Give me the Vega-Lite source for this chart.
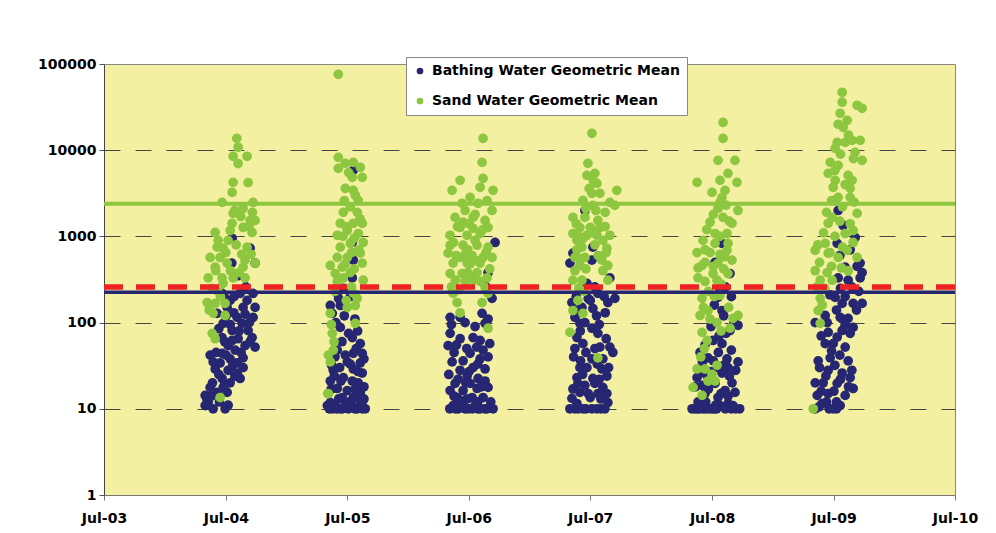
{
  "$schema": "https://vega.github.io/schema/vega-lite/v6.json",
  "autosize": {"type": "none"},
  "padding": {"left": 104, "top": 64, "right": 41, "bottom": 38},
  "width": 851,
  "height": 431,
  "background": "white",
  "datasets": {
    "bathing": [
      {"date":"2004-07-20","value":950},{"date":"2004-09-12","value":730},{"date":"2004-07-19","value":490},{"date":"2004-09-27","value":490},{"date":"2004-08-07","value":350},{"date":"2004-06-20","value":218},{"date":"2004-08-13","value":218},{"date":"2004-09-21","value":218},{"date":"2004-07-05","value":150},{"date":"2004-08-22","value":150},{"date":"2004-09-27","value":150},{"date":"2004-06-05","value":128},{"date":"2004-08-04","value":115},{"date":"2004-09-21","value":115},{"date":"2004-06-23","value":98},{"date":"2004-08-19","value":98},{"date":"2004-07-20","value":81},{"date":"2004-09-06","value":81},{"date":"2004-06-20","value":67},{"date":"2004-08-07","value":65},{"date":"2004-09-18","value":67},{"date":"2004-07-08","value":54},{"date":"2004-08-28","value":54},{"date":"2004-09-27","value":52},{"date":"2004-06-20","value":44},{"date":"2004-07-29","value":48},{"date":"2004-05-15","value":42},{"date":"2004-07-14","value":38},{"date":"2004-08-22","value":39},{"date":"2004-06-14","value":34},{"date":"2004-08-04","value":34},{"date":"2004-08-22","value":30},{"date":"2004-05-30","value":29},{"date":"2004-07-08","value":28},{"date":"2004-08-04","value":26},{"date":"2004-06-20","value":22.5},{"date":"2004-08-13","value":22.5},{"date":"2004-07-14","value":20},{"date":"2004-05-15","value":17.7},{"date":"2004-06-23","value":17.7},{"date":"2004-04-30","value":14.3},{"date":"2004-06-05","value":15.5},{"date":"2004-07-05","value":15.5},{"date":"2004-05-09","value":11.8},{"date":"2004-05-24","value":10},{"date":"2004-06-29","value":10},{"date":"2004-04-30","value":10.9},{"date":"2004-07-14","value":181},{"date":"2004-09-03","value":181},
      {"date":"2004-06-26","value":200},{"date":"2004-07-26","value":200},{"date":"2004-08-30","value":260},{"date":"2004-07-02","value":120},{"date":"2004-07-25","value":130},{"date":"2004-08-28","value":125},{"date":"2004-09-10","value":100},{"date":"2004-06-10","value":85},{"date":"2004-07-14","value":95},{"date":"2004-08-10","value":80},{"date":"2004-06-28","value":60},{"date":"2004-07-20","value":62},{"date":"2004-09-12","value":60},{"date":"2004-06-02","value":45},{"date":"2004-07-02","value":42},{"date":"2004-08-16","value":45},{"date":"2004-05-24","value":35},{"date":"2004-07-22","value":32},{"date":"2004-06-10","value":25},{"date":"2004-07-28","value":24},{"date":"2004-05-22","value":20},{"date":"2004-06-28","value":19},{"date":"2004-05-05","value":13},{"date":"2004-05-18","value":14},{"date":"2004-06-12","value":12},{"date":"2004-07-08","value":11},{"date":"2004-05-02","value":11},
      {"date":"2005-07-19","value":5840},{"date":"2005-07-16","value":850},{"date":"2005-07-19","value":530},{"date":"2005-07-16","value":330},{"date":"2005-06-01","value":218},{"date":"2005-05-11","value":158},{"date":"2005-06-10","value":158},{"date":"2005-05-17","value":128},{"date":"2005-06-10","value":88},{"date":"2005-07-16","value":67},{"date":"2005-08-09","value":57},{"date":"2005-06-01","value":48},{"date":"2005-07-19","value":44},{"date":"2005-08-15","value":44},{"date":"2005-07-01","value":35},{"date":"2005-08-09","value":34},{"date":"2005-05-20","value":28},{"date":"2005-07-19","value":29},{"date":"2005-08-15","value":26},{"date":"2005-06-19","value":23},{"date":"2005-05-11","value":21},{"date":"2005-07-16","value":21},{"date":"2005-08-03","value":20},{"date":"2005-06-01","value":17.2},{"date":"2005-07-01","value":16.3},{"date":"2005-08-09","value":15.5},{"date":"2005-05-05","value":15},{"date":"2005-06-16","value":13.5},{"date":"2005-07-19","value":13.5},{"date":"2005-05-11","value":11.8},{"date":"2005-08-09","value":12.5},{"date":"2005-05-02","value":10.9},{"date":"2005-05-26","value":10.9},{"date":"2005-06-25","value":10.9},{"date":"2005-07-16","value":10.9},{"date":"2005-08-15","value":10.9},{"date":"2005-05-17","value":10},{"date":"2005-06-16","value":10},{"date":"2005-07-31","value":10},{"date":"2005-07-04","value":10},{"date":"2005-08-24","value":10},
      {"date":"2005-06-20","value":250},{"date":"2005-07-10","value":200},{"date":"2005-06-05","value":190},{"date":"2005-07-24","value":110},{"date":"2005-06-22","value":120},{"date":"2005-05-28","value":100},{"date":"2005-07-05","value":75},{"date":"2005-08-01","value":80},{"date":"2005-06-15","value":60},{"date":"2005-07-28","value":50},{"date":"2005-05-25","value":40},{"date":"2005-06-25","value":42},{"date":"2005-08-20","value":38},{"date":"2005-05-15","value":32},{"date":"2005-06-08","value":30},{"date":"2005-07-10","value":33},{"date":"2005-08-02","value":27},{"date":"2005-05-23","value":24},{"date":"2005-06-12","value":21},{"date":"2005-08-20","value":18},{"date":"2005-05-14","value":17},{"date":"2005-07-25","value":17},{"date":"2005-06-05","value":13},{"date":"2005-07-08","value":12},{"date":"2005-08-20","value":13},{"date":"2005-05-08","value":10},{"date":"2005-05-29","value":10},{"date":"2005-06-08","value":10},{"date":"2005-07-24","value":10},{"date":"2005-08-15","value":10},
      {"date":"2006-09-18","value":850},{"date":"2006-08-28","value":380},{"date":"2006-09-09","value":191},{"date":"2006-05-06","value":115},{"date":"2006-06-05","value":115},{"date":"2006-08-10","value":128},{"date":"2006-08-19","value":98},{"date":"2006-05-06","value":75},{"date":"2006-06-05","value":65},{"date":"2006-07-14","value":67},{"date":"2006-09-02","value":57},{"date":"2006-04-30","value":54},{"date":"2006-08-04","value":62},{"date":"2006-07-05","value":44},{"date":"2006-08-13","value":48},{"date":"2006-05-12","value":35},{"date":"2006-06-14","value":36},{"date":"2006-08-04","value":38},{"date":"2006-07-14","value":30},{"date":"2006-08-19","value":29},{"date":"2006-06-26","value":24},{"date":"2006-07-29","value":22.5},{"date":"2006-05-21","value":19.7},{"date":"2006-07-05","value":19.7},{"date":"2006-08-19","value":21},{"date":"2006-05-06","value":16.3},{"date":"2006-06-14","value":16.3},{"date":"2006-07-26","value":17.2},{"date":"2006-08-28","value":17.7},{"date":"2006-05-27","value":13.5},{"date":"2006-07-11","value":13.5},{"date":"2006-08-13","value":13.5},{"date":"2006-05-15","value":10.9},{"date":"2006-06-14","value":10.9},{"date":"2006-07-20","value":10.9},{"date":"2006-08-25","value":10},{"date":"2006-05-30","value":10},{"date":"2006-08-04","value":10},{"date":"2006-06-30","value":10},{"date":"2006-09-12","value":10},
      {"date":"2006-08-22","value":260},{"date":"2006-05-10","value":95},{"date":"2006-06-20","value":100},{"date":"2006-07-20","value":90},{"date":"2006-08-28","value":110},{"date":"2006-05-25","value":55},{"date":"2006-06-25","value":50},{"date":"2006-07-25","value":52},{"date":"2006-08-28","value":40},{"date":"2006-05-18","value":45},{"date":"2006-06-05","value":28},{"date":"2006-07-02","value":27},{"date":"2006-07-28","value":33},{"date":"2006-05-02","value":25},{"date":"2006-05-30","value":22},{"date":"2006-06-22","value":20},{"date":"2006-08-08","value":18},{"date":"2006-05-18","value":14},{"date":"2006-06-05","value":12.5},{"date":"2006-06-26","value":13},{"date":"2006-07-28","value":12},{"date":"2006-09-05","value":12},{"date":"2006-05-05","value":10},{"date":"2006-05-22","value":10},{"date":"2006-06-20","value":10},{"date":"2006-07-12","value":10},{"date":"2006-07-28","value":10},{"date":"2006-08-18","value":10},
      {"date":"2007-06-15","value":2000},{"date":"2007-07-09","value":750},{"date":"2007-05-10","value":640},{"date":"2007-07-06","value":530},{"date":"2007-05-01","value":490},{"date":"2007-08-29","value":330},{"date":"2007-06-21","value":285},{"date":"2007-07-24","value":218},{"date":"2007-05-07","value":171},{"date":"2007-07-01","value":181},{"date":"2007-08-23","value":171},{"date":"2007-09-13","value":191},{"date":"2007-05-16","value":115},{"date":"2007-06-06","value":150},{"date":"2007-07-09","value":146},{"date":"2007-05-31","value":98},{"date":"2007-07-06","value":86},{"date":"2007-07-24","value":75},{"date":"2007-05-22","value":67},{"date":"2007-06-09","value":57},{"date":"2007-07-30","value":52},{"date":"2007-08-29","value":52},{"date":"2007-05-16","value":50},{"date":"2007-09-07","value":45},{"date":"2007-07-06","value":38},{"date":"2007-08-08","value":38},{"date":"2007-05-31","value":30},{"date":"2007-06-21","value":30},{"date":"2007-08-05","value":29},{"date":"2007-05-22","value":23},{"date":"2007-08-20","value":24},{"date":"2007-07-09","value":22.5},{"date":"2007-05-25","value":19.7},{"date":"2007-07-15","value":19.7},{"date":"2007-08-08","value":17.7},{"date":"2007-06-15","value":18.7},{"date":"2007-05-31","value":15.5},{"date":"2007-07-24","value":15},{"date":"2007-08-20","value":15},{"date":"2007-05-07","value":13.2},{"date":"2007-07-01","value":13.5},{"date":"2007-05-01","value":10},{"date":"2007-06-09","value":10},{"date":"2007-07-21","value":10},{"date":"2007-08-23","value":11.8},{"date":"2007-05-22","value":11.5},
      {"date":"2007-06-01","value":240},{"date":"2007-07-15","value":260},{"date":"2007-05-20","value":200},{"date":"2007-06-25","value":190},{"date":"2007-08-12","value":200},{"date":"2007-05-25","value":140},{"date":"2007-07-20","value":120},{"date":"2007-08-15","value":130},{"date":"2007-06-15","value":100},{"date":"2007-07-28","value":95},{"date":"2007-06-01","value":80},{"date":"2007-08-18","value":65},{"date":"2007-06-18","value":45},{"date":"2007-07-15","value":50},{"date":"2007-05-12","value":40},{"date":"2007-06-02","value":36},{"date":"2007-07-22","value":33},{"date":"2007-08-25","value":30},{"date":"2007-06-08","value":25},{"date":"2007-07-28","value":22},{"date":"2007-05-10","value":17},{"date":"2007-06-25","value":15},{"date":"2007-08-02","value":13},{"date":"2007-05-15","value":10},{"date":"2007-05-26","value":10},{"date":"2007-06-18","value":10},{"date":"2007-07-06","value":10},{"date":"2007-08-02","value":10},{"date":"2007-08-14","value":10},
      {"date":"2008-07-31","value":830},{"date":"2008-07-10","value":500},{"date":"2008-08-24","value":370},{"date":"2008-07-19","value":196},{"date":"2008-07-31","value":138},{"date":"2008-09-17","value":93},{"date":"2008-08-24","value":81},{"date":"2008-07-04","value":62},{"date":"2008-07-31","value":57},{"date":"2008-05-26","value":45},{"date":"2008-06-19","value":39},{"date":"2008-08-15","value":38},{"date":"2008-09-17","value":35},{"date":"2008-07-19","value":30},{"date":"2008-08-18","value":30},{"date":"2008-05-17","value":23},{"date":"2008-06-19","value":23},{"date":"2008-07-31","value":26},{"date":"2008-06-01","value":18.7},{"date":"2008-07-10","value":19.7},{"date":"2008-08-30","value":20},{"date":"2008-06-10","value":15},{"date":"2008-08-09","value":16.3},{"date":"2008-09-08","value":15.5},{"date":"2008-05-11","value":10},{"date":"2008-06-04","value":10},{"date":"2008-07-01","value":10},{"date":"2008-07-25","value":10.9},{"date":"2008-08-18","value":11.5},{"date":"2008-09-02","value":10.9},{"date":"2008-07-19","value":13.5},{"date":"2008-05-02","value":10},{"date":"2008-09-22","value":10},
      {"date":"2008-08-10","value":260},{"date":"2008-07-25","value":230},{"date":"2008-08-28","value":200},{"date":"2008-07-08","value":160},{"date":"2008-08-05","value":120},{"date":"2008-09-05","value":100},{"date":"2008-06-28","value":90},{"date":"2008-08-12","value":75},{"date":"2008-07-22","value":70},{"date":"2008-06-10","value":55},{"date":"2008-07-20","value":45},{"date":"2008-08-28","value":48},{"date":"2008-06-02","value":35},{"date":"2008-07-05","value":36},{"date":"2008-08-05","value":32},{"date":"2008-09-10","value":28},{"date":"2008-05-28","value":26},{"date":"2008-06-28","value":27},{"date":"2008-08-22","value":24},{"date":"2008-05-12","value":18},{"date":"2008-06-20","value":17},{"date":"2008-07-28","value":15},{"date":"2008-08-18","value":14},{"date":"2008-05-20","value":12},{"date":"2008-06-12","value":12},{"date":"2008-07-12","value":11},{"date":"2008-05-18","value":10},{"date":"2008-05-25","value":10},{"date":"2008-06-12","value":10},{"date":"2008-06-22","value":10},{"date":"2008-07-08","value":10},{"date":"2008-07-15","value":10},{"date":"2008-08-10","value":10},{"date":"2008-08-28","value":10},{"date":"2008-09-10","value":10},
      {"date":"2009-07-06","value":2620},{"date":"2009-07-15","value":2000},{"date":"2009-07-30","value":1340},{"date":"2009-07-12","value":830},{"date":"2009-09-04","value":970},{"date":"2009-09-19","value":490},{"date":"2009-08-05","value":440},{"date":"2009-09-25","value":380},{"date":"2009-09-19","value":330},{"date":"2009-07-15","value":330},{"date":"2009-08-14","value":310},{"date":"2009-07-06","value":196},{"date":"2009-07-27","value":167},{"date":"2009-08-29","value":167},{"date":"2009-09-25","value":167},{"date":"2009-06-06","value":121},{"date":"2009-07-21","value":115},{"date":"2009-08-14","value":112},{"date":"2009-05-07","value":100},{"date":"2009-08-05","value":93},{"date":"2009-08-29","value":88},{"date":"2009-06-15","value":77},{"date":"2009-07-27","value":81},{"date":"2009-06-06","value":57},{"date":"2009-06-30","value":57},{"date":"2009-08-05","value":52},{"date":"2009-05-16","value":36},{"date":"2009-06-21","value":39},{"date":"2009-08-14","value":36},{"date":"2009-06-15","value":28},{"date":"2009-07-27","value":26},{"date":"2009-08-20","value":23},{"date":"2009-05-07","value":20},{"date":"2009-05-31","value":20},{"date":"2009-07-12","value":19.7},{"date":"2009-08-29","value":17.2},{"date":"2009-05-13","value":14.3},{"date":"2009-06-15","value":15},{"date":"2009-08-05","value":14.3},{"date":"2009-05-28","value":11.5},{"date":"2009-06-30","value":10},{"date":"2009-05-07","value":10},{"date":"2009-07-21","value":10.9},
      {"date":"2009-07-20","value":600},{"date":"2009-08-20","value":700},{"date":"2009-09-10","value":450},{"date":"2009-08-25","value":260},{"date":"2009-07-22","value":250},{"date":"2009-09-15","value":230},{"date":"2009-06-20","value":210},{"date":"2009-08-05","value":200},{"date":"2009-09-08","value":140},{"date":"2009-07-10","value":140},{"date":"2009-06-12","value":100},{"date":"2009-07-28","value":110},{"date":"2009-08-20","value":75},{"date":"2009-05-25","value":70},{"date":"2009-07-12","value":68},{"date":"2009-06-25","value":47},{"date":"2009-07-20","value":42},{"date":"2009-05-20","value":30},{"date":"2009-07-05","value":32},{"date":"2009-08-25","value":28},{"date":"2009-06-08","value":24},{"date":"2009-07-22","value":22},{"date":"2009-05-25","value":16},{"date":"2009-07-02","value":16},{"date":"2009-08-15","value":18},{"date":"2009-06-10","value":12},{"date":"2009-07-10","value":12},{"date":"2009-05-18","value":10.5},{"date":"2009-06-18","value":10},{"date":"2009-07-10","value":10}
    ],
    "sand": [
      {"date":"2004-08-03","value":13700},{"date":"2004-08-07","value":10800},{"date":"2004-07-23","value":8500},{"date":"2004-09-03","value":8500},{"date":"2004-08-07","value":7000},{"date":"2004-07-23","value":4240},{"date":"2004-09-06","value":4200},{"date":"2004-07-20","value":3240},{"date":"2004-06-20","value":2480},{"date":"2004-09-21","value":2480},{"date":"2004-08-22","value":2110},{"date":"2004-09-19","value":1900},{"date":"2004-07-23","value":1850},{"date":"2004-09-12","value":1530},{"date":"2004-07-20","value":1420},{"date":"2004-09-27","value":1530},{"date":"2004-08-22","value":1270},{"date":"2004-07-14","value":1170},{"date":"2004-05-30","value":1110},{"date":"2004-09-18","value":1110},{"date":"2004-06-05","value":750},{"date":"2004-06-23","value":730},{"date":"2004-05-15","value":570},{"date":"2004-06-14","value":570},{"date":"2004-05-30","value":440},{"date":"2004-07-05","value":490},{"date":"2004-09-03","value":750},{"date":"2004-08-28","value":530},{"date":"2004-08-22","value":440},{"date":"2004-09-27","value":490},{"date":"2004-05-09","value":330},{"date":"2004-06-20","value":330},{"date":"2004-07-23","value":330},{"date":"2004-08-28","value":330},{"date":"2004-06-23","value":285},{"date":"2004-05-06","value":171},{"date":"2004-05-30","value":167},{"date":"2004-06-29","value":167},{"date":"2004-05-24","value":128},{"date":"2004-06-29","value":121},{"date":"2004-05-21","value":75},{"date":"2004-05-30","value":65},{"date":"2004-06-14","value":13.5},
      {"date":"2004-07-28","value":2000},{"date":"2004-08-15","value":1700},{"date":"2004-09-09","value":1300},{"date":"2004-07-08","value":900},{"date":"2004-08-01","value":800},{"date":"2004-06-08","value":900},{"date":"2004-07-01","value":650},{"date":"2004-08-18","value":620},{"date":"2004-09-15","value":620},{"date":"2004-06-01","value":400},{"date":"2004-07-15","value":400},{"date":"2004-08-10","value":380},{"date":"2004-05-20","value":250},{"date":"2004-06-08","value":230},{"date":"2004-05-12","value":140},{"date":"2004-06-15","value":200},
      {"date":"2005-06-04","value":76000},{"date":"2005-06-04","value":8260},{"date":"2005-06-25","value":7040},{"date":"2005-07-19","value":7230},{"date":"2005-08-09","value":6330},{"date":"2005-06-04","value":6160},{"date":"2005-07-16","value":4840},{"date":"2005-08-15","value":4840},{"date":"2005-06-25","value":3610},{"date":"2005-07-19","value":3420},{"date":"2005-08-03","value":2620},{"date":"2005-06-19","value":1900},{"date":"2005-07-31","value":1900},{"date":"2005-06-10","value":1420},{"date":"2005-07-19","value":1420},{"date":"2005-08-15","value":1420},{"date":"2005-07-01","value":1170},{"date":"2005-06-01","value":1030},{"date":"2005-08-03","value":1080},{"date":"2005-07-10","value":830},{"date":"2005-08-18","value":850},{"date":"2005-06-10","value":750},{"date":"2005-08-09","value":640},{"date":"2005-06-01","value":570},{"date":"2005-07-01","value":570},{"date":"2005-08-15","value":490},{"date":"2005-05-11","value":460},{"date":"2005-06-16","value":440},{"date":"2005-05-26","value":370},{"date":"2005-07-10","value":380},{"date":"2005-06-19","value":330},{"date":"2005-08-18","value":310},{"date":"2005-07-31","value":191},{"date":"2005-07-25","value":158},{"date":"2005-05-11","value":128},{"date":"2005-07-01","value":150},{"date":"2005-07-25","value":98},{"date":"2005-05-17","value":75},{"date":"2005-05-05","value":42},{"date":"2005-05-20","value":48},{"date":"2005-05-11","value":35},{"date":"2005-05-05","value":15},
      {"date":"2005-07-05","value":5500},{"date":"2005-07-25","value":3000},{"date":"2005-07-10","value":2200},{"date":"2005-06-22","value":2600},{"date":"2005-08-08","value":1600},{"date":"2005-06-28","value":1300},{"date":"2005-07-22","value":950},{"date":"2005-06-18","value":1000},{"date":"2005-07-14","value":650},{"date":"2005-08-05","value":700},{"date":"2005-06-25","value":480},{"date":"2005-07-22","value":420},{"date":"2005-06-01","value":300},{"date":"2005-07-14","value":260},{"date":"2005-05-25","value":230},{"date":"2005-07-19","value":220},{"date":"2005-06-28","value":180},{"date":"2005-05-14","value":95},{"date":"2005-05-22","value":60},
      {"date":"2006-08-13","value":13700},{"date":"2006-08-10","value":7230},{"date":"2006-06-05","value":4470},{"date":"2006-08-13","value":4710},{"date":"2006-05-12","value":3420},{"date":"2006-09-12","value":3420},{"date":"2006-08-04","value":3710},{"date":"2006-07-05","value":2840},{"date":"2006-06-11","value":2420},{"date":"2006-07-29","value":2420},{"date":"2006-09-09","value":2000},{"date":"2006-05-21","value":1660},{"date":"2006-07-14","value":1660},{"date":"2006-08-19","value":1530},{"date":"2006-06-14","value":1460},{"date":"2006-06-05","value":1270},{"date":"2006-07-14","value":1240},{"date":"2006-08-28","value":1270},{"date":"2006-05-06","value":1030},{"date":"2006-06-26","value":1030},{"date":"2006-08-04","value":1080},{"date":"2006-05-06","value":790},{"date":"2006-06-14","value":790},{"date":"2006-07-26","value":790},{"date":"2006-08-28","value":750},{"date":"2006-04-30","value":640},{"date":"2006-06-05","value":570},{"date":"2006-07-11","value":600},{"date":"2006-08-13","value":570},{"date":"2006-09-09","value":570},{"date":"2006-05-15","value":490},{"date":"2006-06-26","value":490},{"date":"2006-08-04","value":490},{"date":"2006-05-06","value":370},{"date":"2006-06-11","value":370},{"date":"2006-07-26","value":380},{"date":"2006-08-25","value":330},{"date":"2006-07-14","value":310},{"date":"2006-08-19","value":256},{"date":"2006-05-15","value":218},{"date":"2006-08-28","value":218},{"date":"2006-05-27","value":171},{"date":"2006-08-10","value":171},{"date":"2006-06-05","value":130},{"date":"2006-08-28","value":86},
      {"date":"2006-06-20","value":2000},{"date":"2006-07-20","value":1800},{"date":"2006-08-25","value":2600},{"date":"2006-05-28","value":1300},{"date":"2006-07-02","value":1400},{"date":"2006-08-12","value":1200},{"date":"2006-05-16","value":850},{"date":"2006-06-28","value":700},{"date":"2006-07-20","value":900},{"date":"2006-08-22","value":650},{"date":"2006-05-24","value":600},{"date":"2006-06-20","value":620},{"date":"2006-07-05","value":480},{"date":"2006-07-28","value":520},{"date":"2006-09-02","value":420},{"date":"2006-05-22","value":310},{"date":"2006-06-20","value":300},{"date":"2006-08-05","value":300},{"date":"2006-06-28","value":380},{"date":"2006-07-10","value":340},{"date":"2006-05-10","value":260},{"date":"2006-06-02","value":240},
      {"date":"2007-07-06","value":15700},{"date":"2007-06-24","value":7040},{"date":"2007-06-21","value":5110},{"date":"2007-07-15","value":5390},{"date":"2007-07-21","value":4120},{"date":"2007-09-19","value":3420},{"date":"2007-07-30","value":3160},{"date":"2007-07-06","value":3160},{"date":"2007-06-09","value":2620},{"date":"2007-08-29","value":2480},{"date":"2007-09-13","value":2290},{"date":"2007-07-09","value":2290},{"date":"2007-05-10","value":1660},{"date":"2007-06-15","value":1660},{"date":"2007-07-24","value":1530},{"date":"2007-05-31","value":1270},{"date":"2007-07-01","value":1270},{"date":"2007-07-30","value":1270},{"date":"2007-05-10","value":1080},{"date":"2007-08-29","value":1030},{"date":"2007-06-21","value":1030},{"date":"2007-07-21","value":1030},{"date":"2007-05-22","value":900},{"date":"2007-08-08","value":900},{"date":"2007-06-06","value":750},{"date":"2007-08-20","value":730},{"date":"2007-05-16","value":570},{"date":"2007-06-15","value":570},{"date":"2007-08-05","value":530},{"date":"2007-05-31","value":460},{"date":"2007-08-23","value":460},{"date":"2007-08-08","value":400},{"date":"2007-05-10","value":310},{"date":"2007-06-06","value":310},{"date":"2007-08-23","value":310},{"date":"2007-05-25","value":181},{"date":"2007-05-10","value":138},{"date":"2007-06-09","value":128},{"date":"2007-05-01","value":77},{"date":"2007-07-24","value":39},
      {"date":"2007-07-10","value":4500},{"date":"2007-06-28","value":3600},{"date":"2007-07-18","value":2000},{"date":"2007-06-18","value":2100},{"date":"2007-08-15","value":1900},{"date":"2007-05-20","value":1400},{"date":"2007-07-10","value":1100},{"date":"2007-08-15","value":1300},{"date":"2007-05-28","value":1000},{"date":"2007-07-15","value":800},{"date":"2007-06-10","value":950},{"date":"2007-08-18","value":650},{"date":"2007-05-22","value":700},{"date":"2007-06-01","value":550},{"date":"2007-07-25","value":600},{"date":"2007-05-16","value":400},{"date":"2007-06-18","value":420},{"date":"2007-05-28","value":250},{"date":"2007-06-12","value":230},
      {"date":"2008-08-03","value":21000},{"date":"2008-08-03","value":13700},{"date":"2008-07-19","value":7630},{"date":"2008-09-08","value":7630},{"date":"2008-08-18","value":5390},{"date":"2008-05-17","value":4240},{"date":"2008-07-25","value":4470},{"date":"2008-09-14","value":4240},{"date":"2008-07-01","value":3240},{"date":"2008-08-09","value":3420},{"date":"2008-07-31","value":2840},{"date":"2008-09-17","value":2000},{"date":"2008-07-19","value":2110},{"date":"2008-08-03","value":1660},{"date":"2008-06-25","value":1460},{"date":"2008-08-30","value":1420},{"date":"2008-07-10","value":1080},{"date":"2008-08-15","value":1080},{"date":"2008-06-04","value":900},{"date":"2008-08-18","value":830},{"date":"2008-07-10","value":830},{"date":"2008-05-17","value":650},{"date":"2008-06-25","value":650},{"date":"2008-08-15","value":690},{"date":"2008-06-10","value":500},{"date":"2008-08-30","value":530},{"date":"2008-07-19","value":490},{"date":"2008-05-20","value":430},{"date":"2008-07-04","value":370},{"date":"2008-08-18","value":370},{"date":"2008-05-20","value":330},{"date":"2008-07-16","value":310},{"date":"2008-06-01","value":191},{"date":"2008-07-25","value":207},{"date":"2008-06-19","value":138},{"date":"2008-05-26","value":121},{"date":"2008-09-17","value":121},{"date":"2008-07-16","value":100},{"date":"2008-09-02","value":112},{"date":"2008-06-01","value":77},{"date":"2008-08-24","value":86},{"date":"2008-06-16","value":62},{"date":"2008-07-16","value":32},{"date":"2008-05-17","value":29},{"date":"2008-06-10","value":29},{"date":"2008-06-19","value":21},{"date":"2008-05-05","value":17.7},{"date":"2008-06-01","value":14.3},{"date":"2008-07-10","value":21},
      {"date":"2008-07-25","value":2500},{"date":"2008-08-12","value":2300},{"date":"2008-07-05","value":1800},{"date":"2008-08-22","value":1500},{"date":"2008-06-15","value":1200},{"date":"2008-07-25","value":1000},{"date":"2008-06-10","value":700},{"date":"2008-07-25","value":620},{"date":"2008-08-08","value":580},{"date":"2008-06-01","value":460},{"date":"2008-07-05","value":450},{"date":"2008-08-05","value":420},{"date":"2008-06-10","value":300},{"date":"2008-07-28","value":280},{"date":"2008-06-20","value":230},{"date":"2008-07-08","value":200},{"date":"2008-06-05","value":150},{"date":"2008-08-20","value":150},{"date":"2008-06-25","value":110},{"date":"2008-07-28","value":80},{"date":"2008-06-08","value":50},{"date":"2008-05-28","value":40},{"date":"2008-07-01","value":25},
      {"date":"2009-07-27","value":47000},{"date":"2009-07-27","value":36000},{"date":"2009-09-10","value":33200},{"date":"2009-09-25","value":30600},{"date":"2009-07-21","value":26800},{"date":"2009-08-11","value":22200},{"date":"2009-07-30","value":18400},{"date":"2009-07-12","value":12340},{"date":"2009-09-19","value":13000},{"date":"2009-08-05","value":12340},{"date":"2009-08-26","value":13000},{"date":"2009-07-06","value":10500},{"date":"2009-09-04","value":9440},{"date":"2009-09-25","value":7630},{"date":"2009-06-21","value":7230},{"date":"2009-07-15","value":6670},{"date":"2009-06-15","value":5390},{"date":"2009-08-14","value":5110},{"date":"2009-07-06","value":4470},{"date":"2009-08-26","value":4470},{"date":"2009-06-30","value":3710},{"date":"2009-08-20","value":3610},{"date":"2009-08-20","value":2840},{"date":"2009-07-15","value":2840},{"date":"2009-09-10","value":1850},{"date":"2009-06-27","value":1660},{"date":"2009-06-15","value":1420},{"date":"2009-08-05","value":1080},{"date":"2009-08-29","value":1170},{"date":"2009-06-06","value":830},{"date":"2009-08-29","value":850},{"date":"2009-05-07","value":690},{"date":"2009-06-15","value":640},{"date":"2009-07-15","value":570},{"date":"2009-08-11","value":690},{"date":"2009-09-10","value":570},{"date":"2009-05-07","value":400},{"date":"2009-06-12","value":380},{"date":"2009-08-14","value":400},{"date":"2009-05-22","value":310},{"date":"2009-06-27","value":310},{"date":"2009-05-22","value":191},{"date":"2009-05-16","value":138},{"date":"2009-05-22","value":98},{"date":"2009-05-01","value":10},
      {"date":"2009-07-15","value":20000},{"date":"2009-08-15","value":15000},{"date":"2009-07-22","value":9000},{"date":"2009-08-30","value":8000},{"date":"2009-07-05","value":5800},{"date":"2009-08-05","value":4000},{"date":"2009-06-25","value":2600},{"date":"2009-07-28","value":2200},{"date":"2009-09-01","value":2500},{"date":"2009-06-10","value":1900},{"date":"2009-07-20","value":1500},{"date":"2009-08-20","value":1400},{"date":"2009-06-01","value":1100},{"date":"2009-07-05","value":1000},{"date":"2009-05-15","value":800},{"date":"2009-06-20","value":650},{"date":"2009-07-28","value":750},{"date":"2009-05-20","value":500},{"date":"2009-06-25","value":450},{"date":"2009-07-25","value":430},{"date":"2009-05-12","value":260},{"date":"2009-06-05","value":250},{"date":"2009-05-28","value":160}
    ]
  },
  "encoding": {
    "y": {
      "field": "value",
      "type": "quantitative",
      "scale": {"type": "log", "domain": [1, 100000], "nice": false},
      "axis": {
        "title": null,
        "values": [1, 10, 100, 1000, 10000, 100000],
        "format": "d",
        "grid": true,
        "gridDash": [16, 15],
        "gridColor": {"condition": {"test": "datum.value == 1 || datum.value == 100000", "value": "transparent"}, "value": "#444444"},
        "tickSize": 5,
        "labelPadding": 3,
        "domainColor": "#444444",
        "tickColor": "#555555"
      }
    }
  },
  "layer": [
    {
      "encoding": {
        "x": {
          "field": "date",
          "type": "temporal",
          "scale": {"type": "utc", "domain": [{"year": 2003, "month": 7, "date": 1, "utc": true}, {"year": 2010, "month": 7, "date": 1, "utc": true}]},
          "axis": {
            "title": null,
            "format": "%b-%y",
            "values": [
              {"year": 2003, "month": 7, "date": 1, "utc": true},
              {"year": 2004, "month": 7, "date": 1, "utc": true},
              {"year": 2005, "month": 7, "date": 1, "utc": true},
              {"year": 2006, "month": 7, "date": 1, "utc": true},
              {"year": 2007, "month": 7, "date": 1, "utc": true},
              {"year": 2008, "month": 7, "date": 1, "utc": true},
              {"year": 2009, "month": 7, "date": 1, "utc": true},
              {"year": 2010, "month": 7, "date": 1, "utc": true}
            ],
            "grid": false,
            "labelFlush": false,
            "tickSize": 5,
            "labelPadding": 11,
            "domainColor": "#777777",
            "tickColor": "#777777"
          }
        }
      },
      "layer": [
        {
          "data": {"name": "bathing"},
          "mark": {"type": "circle", "size": 95, "opacity": 1},
          "encoding": {"color": {"datum": "Bathing Water Geometric Mean", "type": "nominal"}}
        },
        {
          "data": {"name": "sand"},
          "mark": {"type": "circle", "size": 95, "opacity": 1},
          "encoding": {"color": {"datum": "Sand Water Geometric Mean", "type": "nominal"}}
        }
      ]
    },
    {
      "data": {"values": [{"value": 2400}]},
      "mark": {"type": "rule", "color": "#8DC63F", "strokeWidth": 4},
      "encoding": {}
    },
    {
      "data": {"values": [{"value": 258}]},
      "mark": {"type": "rule", "color": "#EE2224", "strokeWidth": 5.5, "strokeDash": [19, 13]},
      "encoding": {}
    },
    {
      "data": {"values": [{"value": 225}]},
      "mark": {"type": "rule", "color": "#262673", "strokeWidth": 3.5},
      "encoding": {}
    }
  ],
  "config": {
    "font": "DejaVu Sans",
    "view": {"fill": "#F4F0A2", "stroke": "#888888", "strokeWidth": 1},
    "axis": {"labelFont": "DejaVu Sans", "labelFontWeight": "bold", "labelFontSize": 14, "labelColor": "#000000"},
    "range": {"category": ["#262673", "#8DC63F"]},
    "legend": {
      "orient": "none",
      "legendX": 302,
      "legendY": -7,
      "title": null,
      "fillColor": "#ffffff",
      "strokeColor": "#888888",
      "padding": 7,
      "rowPadding": 16,
      "labelFont": "DejaVu Sans",
      "labelFontSize": 14,
      "labelFontWeight": "bold",
      "labelColor": "#000000",
      "labelLimit": 400,
      "labelOffset": 5,
      "symbolSize": 45,
      "symbolType": "circle",
      "symbolStrokeWidth": 0
    }
  }
}
